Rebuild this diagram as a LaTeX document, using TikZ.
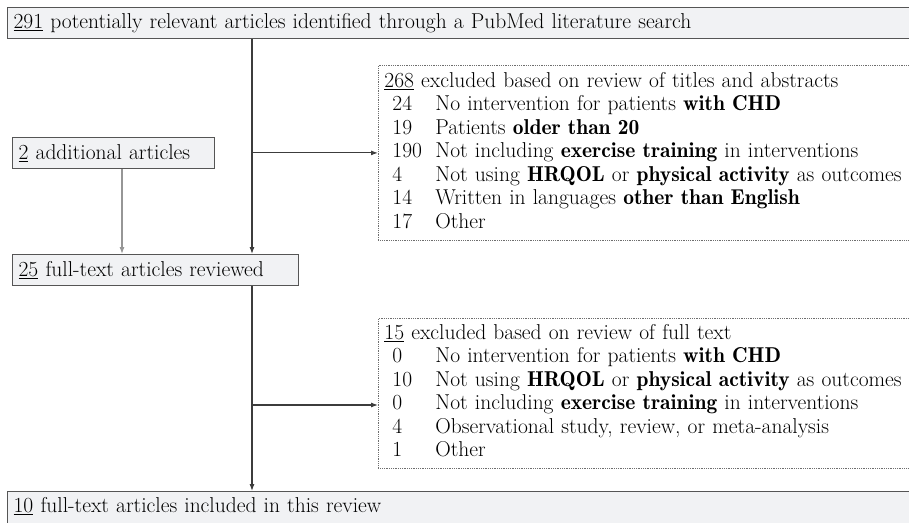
\documentclass[tikz,border=0pt]{standalone}
\usetikzlibrary{arrows.meta, positioning}
\definecolor{boxfill}{RGB}{241, 242, 244}
\definecolor{boxline}{RGB}{85, 85, 85}
\definecolor{flowline}{RGB}{60, 60, 60}
\definecolor{sideline}{RGB}{150, 150, 150}
\definecolor{dotline}{RGB}{110, 110, 110}
\newcommand{\keyterm}[1]{{\fontseries{b}\selectfont #1}}

\begin{document}
\begin{tikzpicture}[
  x=1pt, y=-1pt,
  stagebox/.style={rectangle, draw=boxline, line width=1.2pt, fill=boxfill, anchor=north west,
                   minimum height=31pt, inner xsep=6pt, inner ysep=0pt, align=left,
                   font=\fontsize{21.5}{23.5}\selectfont},
  excludebox/.style={rectangle, draw=dotline, densely dotted, line width=0.8pt, anchor=north west,
                     inner xsep=6pt, inner ysep=4pt, align=left, text width=540pt,
                     font=\fontsize{21.5}{23.5}\selectfont},
  arr/.style={-{Latex[length=7pt, width=5pt]}, line width=1.1pt, flowline},
  sidearr/.style={arr, sideline}
]
  \clip (0,0) rectangle (909,522);
  \coordinate (trunk) at (252,0);
  \coordinate (side) at (122,0);
  \node[stagebox, text width=896pt] (search) at (7,7)
    {\underline{291} potentially relevant articles identified through a PubMed literature search};
  \node[stagebox, text width=190pt] (added) at (12,137) {\underline{2} additional articles};
  \node[stagebox, text width=274pt] (full) at (12,254) {\underline{25} full-text articles reviewed};
  \node[stagebox, text width=896pt, text height=21pt, text depth=25pt] (final) at (7,491)
    {\underline{10} full-text articles included in this review};
  \node[excludebox, minimum height=175pt] (titles) at (378,65) {%
    \begin{tabular}{@{\hspace{8pt}}p{43pt}@{}l@{}}
      \multicolumn{2}{@{}l@{}}{\underline{268} excluded based on review of titles and abstracts}\\
      24  & No intervention for patients \keyterm{with CHD}\\
      19  & Patients \keyterm{older than 20}\\
      190 & Not including \keyterm{exercise training} in interventions\\
      4   & Not using \keyterm{HRQOL} or \keyterm{physical activity} as outcomes\\
      14  & Written in languages \keyterm{other than English}\\
      17  & Other
    \end{tabular}};
  \node[excludebox, minimum height=150pt] (fulltext) at (378,318) {%
    \begin{tabular}{@{\hspace{8pt}}p{43pt}@{}l@{}}
      \multicolumn{2}{@{}l@{}}{\underline{15} excluded based on review of full text}\\
      0  & No intervention for patients \keyterm{with CHD}\\
      10 & Not using \keyterm{HRQOL} or \keyterm{physical activity} as outcomes\\
      0  & Not including \keyterm{exercise training} in interventions\\
      4  & Observational study, review, or meta-analysis\\
      1  & Other
    \end{tabular}};
  \coordinate (cut) at (252,405);
  \draw[arr] (search.south -| trunk) -- (full.north -| trunk);
  \draw[arr] (titles.west -| trunk) -- (titles.west);
  \draw[sidearr] (added.south -| side) -- (full.north -| side);
  \draw[arr] (full.south -| trunk) -- (final.north -| trunk);
  \draw[arr] (cut) -- (cut -| fulltext.west);
\end{tikzpicture}
\end{document}
